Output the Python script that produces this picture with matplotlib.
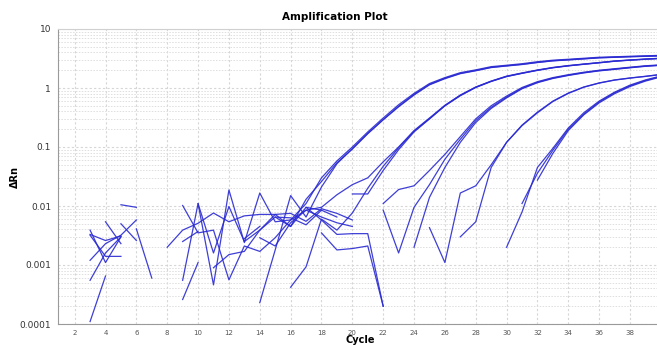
import numpy as np
import matplotlib
matplotlib.use("Agg")
import matplotlib.pyplot as plt
import matplotlib.ticker as mticker

_ = np.nan

# cycle numbers and delta Rn per well (nan = negative value, not drawn on log axis)
cycles = list(range(1, 41))

well_a1 = [_, _, 0.00011, 0.00065, _, _, _, _, 0.00026, 0.0011,
           _, _, _, 0.00023, 0.0018, 0.015, 0.0065, 0.021, 0.052, 0.094,
           0.17, 0.29, 0.49, 0.78, 1.15, 1.46, 1.77, 1.98, 2.24, 2.38,
           2.52, 2.72, 2.9, 3.01, 3.13, 3.26, 3.33, 3.4, 3.46, 3.52]
well_a2 = [_, _, 0.00055, 0.0016, 0.003, _, _, _, 0.00055, 0.011,
           0.00046, 0.0187, 0.0024, 0.0166, 0.0054, 0.0058, 0.011, 0.03, 0.058, 0.1,
           0.18, 0.31, 0.52, 0.81, 1.19, 1.5, 1.82, 2.03, 2.3, 2.43,
           2.58, 2.79, 2.96, 3.07, 3.19, 3.32, 3.38, 3.45, 3.51, 3.58]
well_a3 = [_, _, 0.0012, 0.0023, 0.0032, 0.0058, _, _, _, 0.011,
           0.0016, 0.0098, 0.0025, 0.0039, 0.0072, 0.0045, 0.013, 0.026, 0.054, 0.092,
           0.168, 0.29, 0.48, 0.76, 1.13, 1.44, 1.75, 1.96, 2.22, 2.36,
           2.5, 2.7, 2.88, 2.99, 3.11, 3.24, 3.31, 3.38, 3.44, 3.5]
well_b1 = [_, _, 0.0039, 0.0011, 0.003, _, _, _, 0.0102, 0.0035,
           0.0039, 0.00056, 0.0021, 0.0017, 0.0029, 0.0058, 0.0085, 0.0095, 0.0155, 0.023,
           0.03, 0.056, 0.1, 0.19, 0.31, 0.51, 0.76, 1.04, 1.31, 1.59,
           1.8, 2.02, 2.23, 2.4, 2.55, 2.7, 2.87, 2.99, 3.1, 3.2]
well_b2 = [_, _, 0.0033, 0.0026, 0.0031, _, _, _, _, _,
           0.0009, 0.0015, 0.0017, 0.0039, 0.0065, 0.0063, 0.0048, 0.0085, _, 0.016,
           0.016, 0.04, 0.09, 0.18, 0.3, 0.5, 0.74, 1.02, 1.29, 1.56,
           1.77, 1.99, 2.2, 2.37, 2.52, 2.67, 2.84, 2.96, 3.07, 3.17]
well_b3 = [_, _, 0.0032, 0.0014, 0.0014, _, _, _, _, _,
           _, _, _, _, _, 0.00042, 0.00093, 0.006, 0.0039, 0.0076,
           0.02, 0.047, 0.097, 0.185, 0.3, 0.5, 0.75, 1.03, 1.3, 1.57,
           1.78, 2.0, 2.21, 2.38, 2.53, 2.68, 2.85, 2.97, 3.08, 3.18]
well_c1 = [_, _, _, 0.0054, 0.0023, _, _, _, _, _,
           _, _, _, 0.0029, 0.0021, 0.0052, 0.0085, 0.0065, 0.0052, 0.0045,
           _, 0.011, 0.019, 0.022, 0.04, 0.075, 0.15, 0.3, 0.5, 0.73,
           1.02, 1.28, 1.5, 1.68, 1.85, 2.0, 2.12, 2.25, 2.38, 2.47]
well_c2 = [_, _, _, _, 0.0105, 0.0095, _, _, _, _,
           _, _, 0.0028, 0.0045, _, _, _, _, _, _,
           _, 0.0085, 0.0016, 0.0095, 0.023, 0.062, 0.135, 0.28, 0.47, 0.7,
           0.99, 1.25, 1.47, 1.65, 1.82, 1.97, 2.09, 2.22, 2.35, 2.44]
well_c3 = [_, _, _, _, 0.005, 0.0026, _, _, _, _,
           _, _, _, _, 0.0065, 0.0045, 0.0095, 0.0085, 0.0065, _,
           _, _, _, 0.002, 0.014, 0.045, 0.12, 0.26, 0.45, 0.68,
           0.97, 1.23, 1.45, 1.63, 1.8, 1.95, 2.07, 2.2, 2.33, 2.42]
well_d1 = [_, _, _, _, _, 0.0041, 0.0006, _, _, _,
           _, _, _, _, _, _, _, _, _, _,
           _, _, _, _, 0.0043, 0.0011, 0.0166, 0.022, 0.05, 0.12,
           0.23, 0.38, 0.59, 0.81, 1.03, 1.21, 1.36, 1.47, 1.57, 1.69]
well_d2 = [_, _, _, _, _, _, _, _, 0.0025, 0.0037,
           _, _, _, _, _, _, _, _, _, _,
           _, _, _, _, _, _, 0.003, 0.0054, 0.045, 0.12,
           0.235, 0.39, 0.6, 0.82, 1.04, 1.22, 1.37, 1.48, 1.58, 1.7]
well_e1 = [_, _, _, _, _, _, _, _, _, _,
           _, _, _, _, _, _, _, _, _, _,
           _, _, _, _, _, _, _, _, _, 0.002,
           0.0079, 0.045, 0.095, 0.21, 0.38, 0.6, 0.85, 1.12, 1.37, 1.6]
well_e2 = [_, _, _, _, _, _, _, _, _, _,
           _, _, _, _, _, _, _, _, _, _,
           _, _, _, _, _, _, _, _, _, _,
           0.011, 0.036, 0.088, 0.2, 0.36, 0.58, 0.83, 1.09, 1.34, 1.57]
well_e3 = [_, _, _, _, _, _, _, _, _, _,
           _, _, _, _, _, _, _, _, _, _,
           _, _, _, _, _, _, _, _, _, _,
           _, 0.0275, 0.078, 0.19, 0.35, 0.56, 0.8, 1.06, 1.31, 1.54]
well_n1 = [_, _, _, _, _, _, _, 0.002, 0.0039, 0.0051,
           0.0076, 0.0054, 0.0068, 0.0072, 0.0072, 0.0075, 0.0055, 0.009, 0.0075, 0.0058,
           _, _, _, _, _, _, _, _, _, _,
           _, _, _, _, _, _, _, _, _, _]
well_n2 = [_, _, _, _, _, _, _, _, _, _,
           _, _, _, _, _, _, 0.0095, 0.0058, 0.0033, 0.0034,
           0.0034, 0.0002, _, _, _, _, _, _, _, _,
           _, _, _, _, _, _, _, _, _, _]
well_n3 = [_, _, _, _, _, _, _, _, _, _,
           _, _, _, _, _, _, _, 0.0035, 0.0018, 0.0019,
           0.0021, 0.0002, _, _, _, _, _, _, _, _,
           _, _, _, _, _, _, _, _, _, _]

wells = [well_a1, well_a2, well_a3, well_b1, well_b2, well_b3,
         well_c1, well_c2, well_c3, well_d1, well_d2,
         well_e1, well_e2, well_e3, well_n1, well_n2, well_n3]

x_ticks = list(range(2, 40, 2))
y_ticks = [0.0001, 0.001, 0.01, 0.1, 1, 10]
y_labels = ["0.0001", "0.001", "0.01", "0.1", "1", "10"]

fig = plt.figure(figsize=(6.57, 3.45), dpi=100)
ax = fig.add_axes([58 / 657, 1 - 324 / 345, 599 / 657, 295 / 345])

for w in wells:
    ax.plot(cycles, w, color="#2a2ad2", lw=0.9, alpha=0.9)

ax.set_yscale("log")
ax.set_xlim(0.92, 39.75)
ax.set_ylim(0.0001, 10)

ax.xaxis.set_major_locator(mticker.FixedLocator(x_ticks))
ax.yaxis.set_major_locator(mticker.FixedLocator(y_ticks))
ax.yaxis.set_major_formatter(mticker.FixedFormatter(y_labels))
ax.yaxis.set_minor_locator(mticker.LogLocator(base=10, subs=range(2, 10), numticks=20))
ax.yaxis.set_minor_formatter(mticker.NullFormatter())

ax.tick_params(axis="x", labelsize=5, colors="#555555", length=0, pad=4)
ax.tick_params(axis="y", labelsize=6.5, colors="#333333", length=0, pad=5)
ax.tick_params(which="minor", length=0)

ax.grid(True, which="major", color="#d6d6d6", lw=0.8, ls=(0, (2, 2)))
ax.grid(True, which="minor", axis="y", color="#dedede", lw=0.7, ls=(0, (1.5, 1.5)))
ax.set_axisbelow(True)

for side in ["left", "bottom"]:
    ax.spines[side].set_color("#9a9a9a")
ax.spines["top"].set_color("#d0d0d0")
ax.spines["right"].set_visible(False)

fig.text(335 / 657, 1 - 17 / 345, "Amplification Plot", ha="center", va="center",
         fontsize=7.5, fontweight="bold")
fig.text(15 / 657, 1 - 177 / 345, "ΔRn", ha="center", va="center", rotation=90,
         fontsize=7, fontweight="bold")
fig.text(360 / 657, 1 - 340 / 345, "Cycle", ha="center", va="center",
         fontsize=7, fontweight="bold")

fig.savefig("out.png", dpi=100)
